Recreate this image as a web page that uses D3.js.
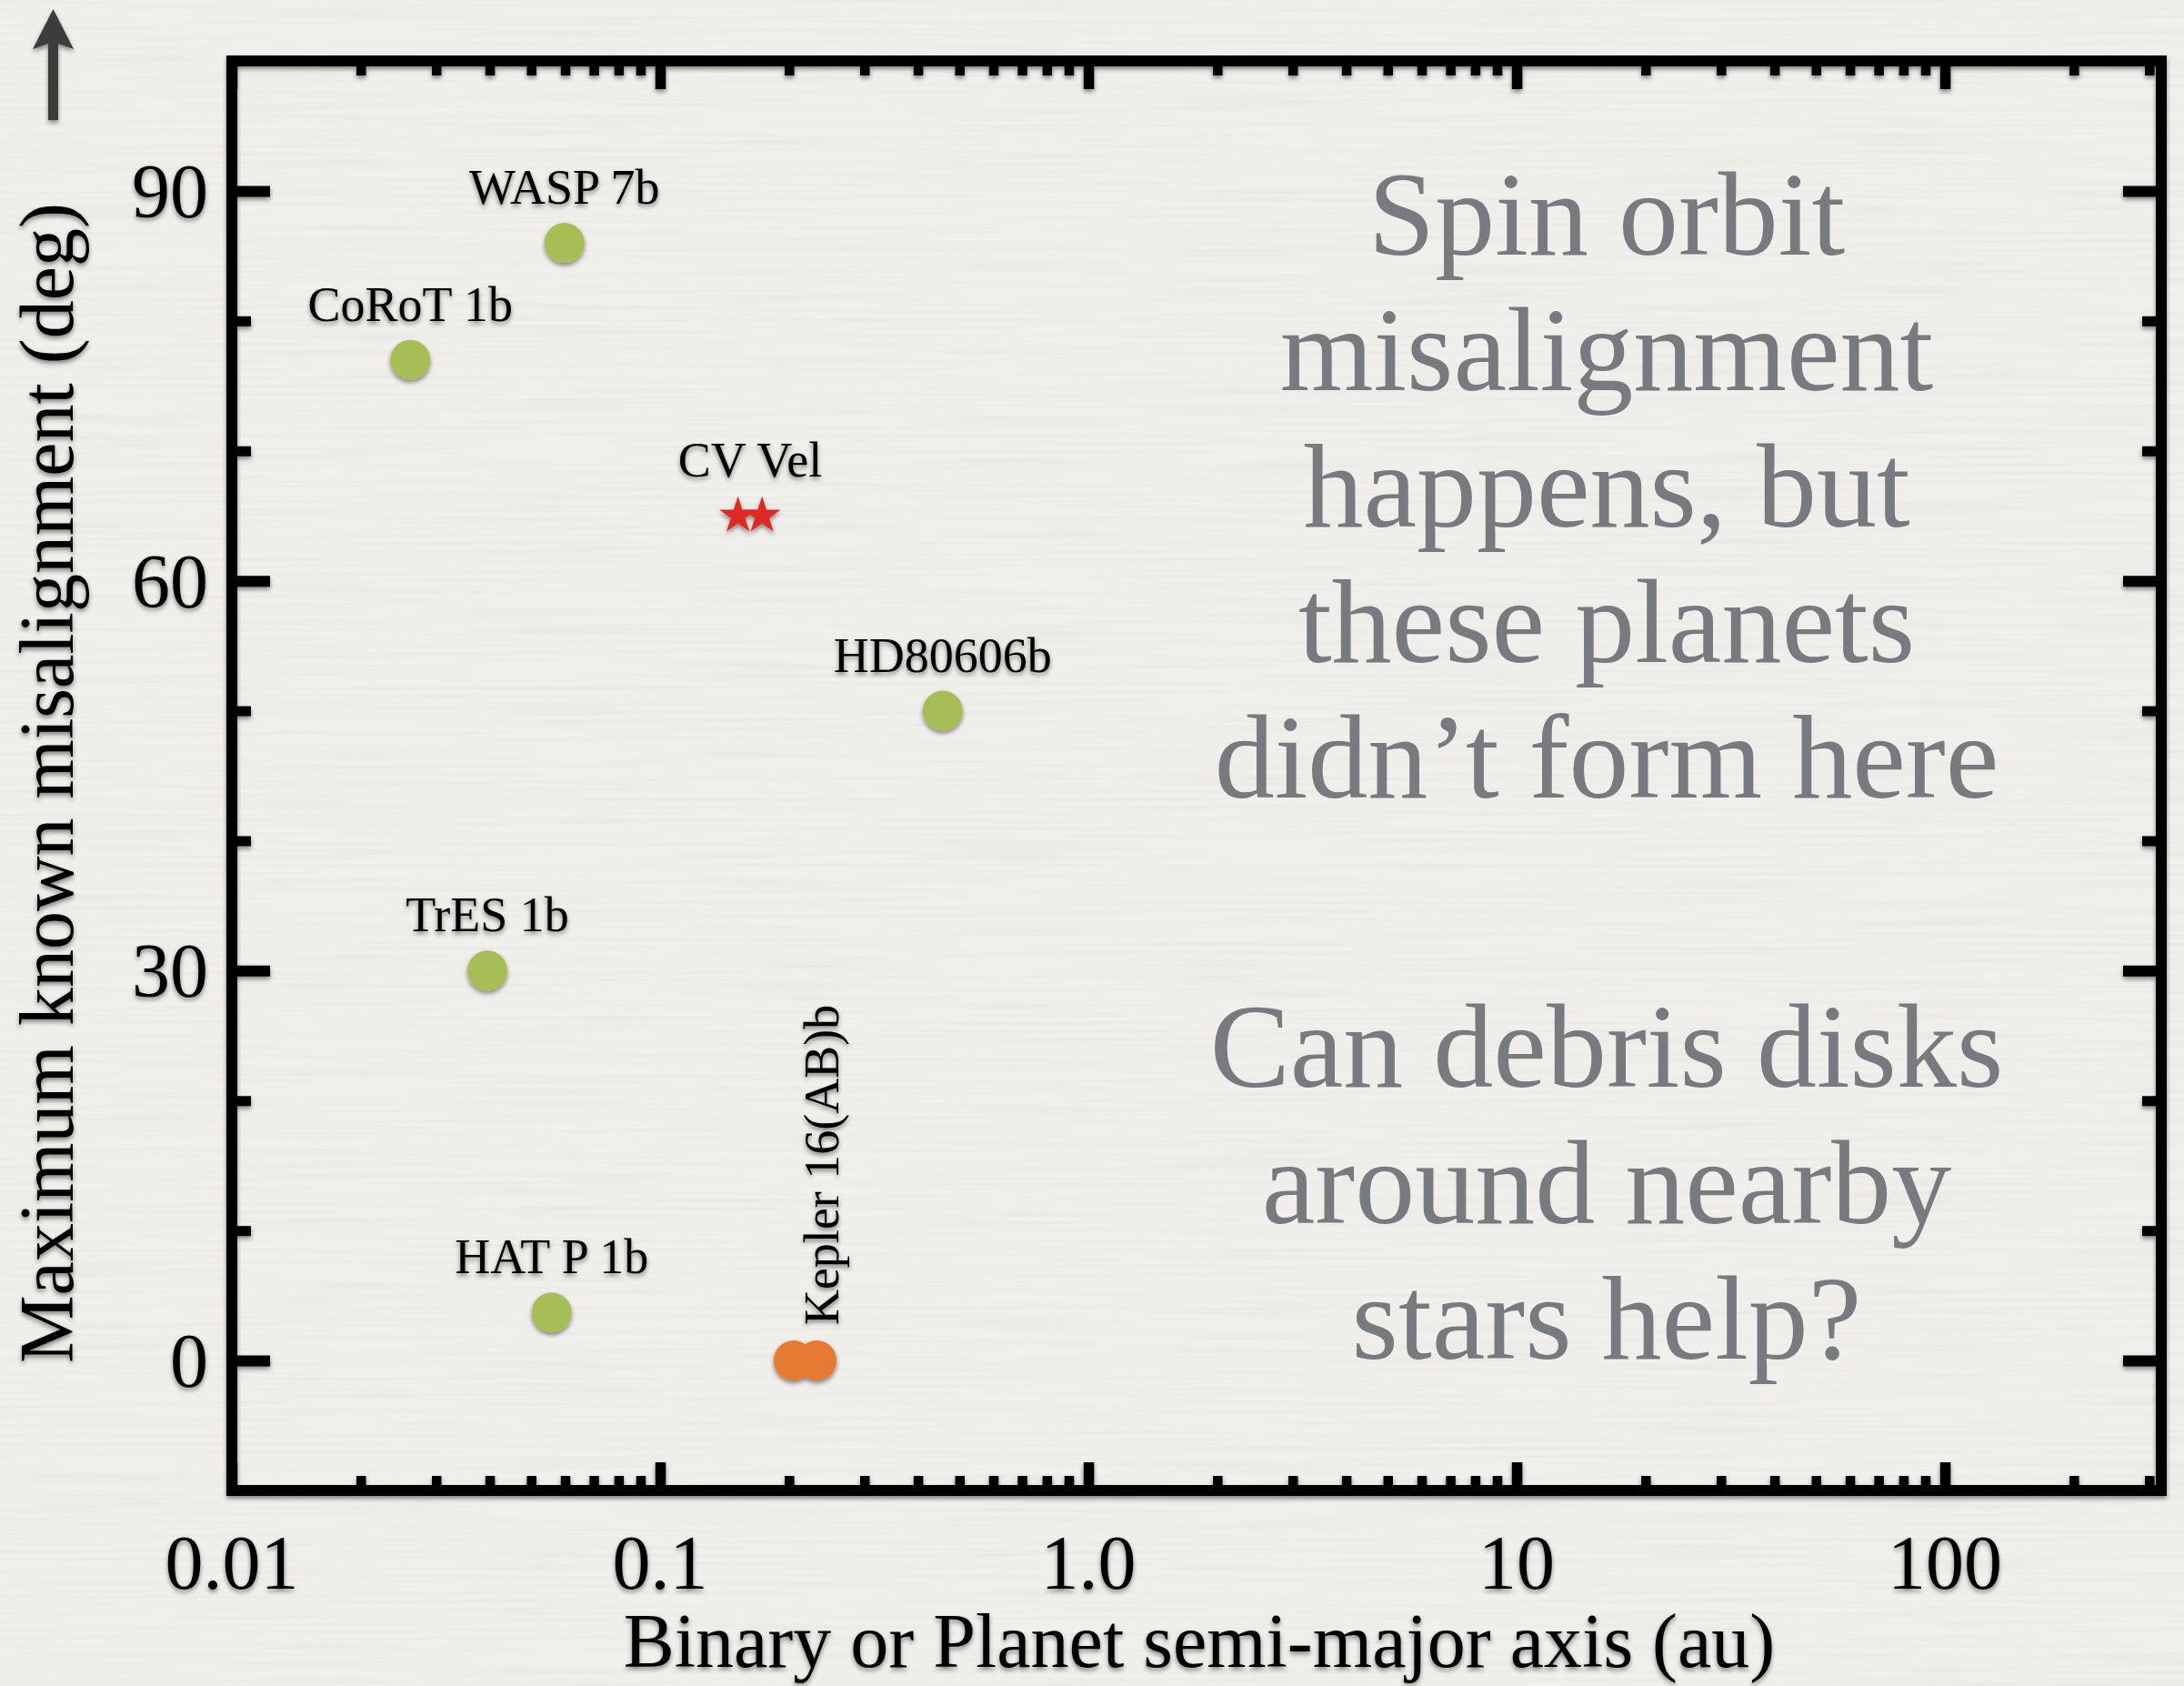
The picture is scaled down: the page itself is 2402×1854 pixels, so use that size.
<!DOCTYPE html>
<html>
<head>
<meta charset="utf-8">
<script src="https://cdn.jsdelivr.net/npm/d3@7"></script>
<style>
  html, body { margin: 0; padding: 0; background: #f0efeb; }
  svg { display: block; }
  text { font-family: "Liberation Serif", "Times New Roman", serif; }
</style>
</head>
<body>
<svg id="chart" width="2402" height="1854"></svg>
<script>
// ---- data ----
const planetNames = ["WASP 7b", "CoRoT 1b", "HD80606b", "TrES 1b", "HAT P 1b"];
const planetA = [0.0598, 0.0261, 0.457, 0.0395, 0.0558];      // semi-major axis (au)
const planetMisalign = [86, 77, 50, 30, 3.7];                   // deg

const cvVelName = "CV Vel";
const cvVelA = [0.152, 0.173];
const cvVelMisalign = [65, 65];

const keplerName = "Kepler 16(AB)b";
const keplerA = [0.205, 0.232];
const keplerMisalign = [0, 0];

const xMajorTicks = [0.01, 0.1, 1, 10, 100];
const xTickLabels = ["0.01", "0.1", "1.0", "10", "100"];
const yMajorTicks = [0, 30, 60, 90];
const yMinorTicks = [10, 20, 40, 50, 70, 80];

const xTitle = "Binary or Planet semi-major axis (au)";
const yTitle = "Maximum known misalignment (deg)";
const noteTop = ["Spin orbit", "misalignment", "happens, but", "these planets", "didn\u2019t form here"];
const noteBottom = ["Can debris disks", "around nearby", "stars help?"];

// ---- layout ----
const W = 2402, H = 1854;
const svg = d3.select("#chart");

const x = d3.scaleLog().domain([0.01, 320]).range([255, 2377]);
const y = d3.scaleLinear().domain([-10, 100]).range([1639, 67]);

const xMinorTicks = [];
for (let d = 0.01; d < 320; d *= 10) {
  for (let m = 2; m <= 9; m++) {
    const v = +(d * m).toPrecision(3);
    if (v < 320) xMinorTicks.push(v);
  }
}

// ---- defs: paper texture and soft shadow ----
const defs = svg.append("defs");
const paper = defs.append("filter").attr("id", "paper")
  .attr("x", 0).attr("y", 0).attr("width", "100%").attr("height", "100%");
paper.append("feTurbulence").attr("type", "fractalNoise")
  .attr("baseFrequency", "0.004 0.22").attr("numOctaves", 3).attr("seed", 7).attr("result", "noise");
paper.append("feColorMatrix").attr("type", "matrix")
  .attr("values", "0 0 0 0 0.35  0 0 0 0 0.35  0 0 0 0 0.32  0 0 0 -0.9 0.55");

const shadow = defs.append("filter").attr("id", "shadow")
  .attr("x", "-20%").attr("y", "-20%").attr("width", "140%").attr("height", "140%");
shadow.append("feGaussianBlur").attr("in", "SourceAlpha").attr("stdDeviation", 2.6).attr("result", "b");
shadow.append("feOffset").attr("in", "b").attr("dx", 0).attr("dy", 2.5).attr("result", "o");
shadow.append("feComponentTransfer").attr("in", "o").attr("result", "s")
  .append("feFuncA").attr("type", "linear").attr("slope", 0.45);
const merge = shadow.append("feMerge");
merge.append("feMergeNode").attr("in", "s");
merge.append("feMergeNode").attr("in", "SourceGraphic");

// background
svg.append("rect").attr("width", W).attr("height", H).attr("fill", "#f0efeb");
svg.append("rect").attr("width", W).attr("height", H).attr("filter", "url(#paper)").attr("opacity", 0.18);

// ---- note text ----
const note = svg.append("g").attr("fill", "#777b7f").attr("font-size", 132).attr("text-anchor", "middle");
note.selectAll("text.top").data(noteTop).join("text").attr("class", "top")
  .attr("x", 1767).attr("y", (d, i) => 280 + i * 149.3).text(d => d);
note.selectAll("text.bot").data(noteBottom).join("text").attr("class", "bot")
  .attr("x", 1767).attr("y", (d, i) => 1195 + i * 149.5).text(d => d);

// ---- axes ----
const chart = svg.append("g").attr("filter", "url(#shadow)");

function styleAxis(g, width) {
  g.select(".domain").remove();
  g.selectAll(".tick line").attr("stroke", "#000").attr("stroke-width", width);
  g.selectAll(".tick text").remove();
}

chart.append("g").attr("transform", `translate(0,${y(-10)})`)
  .call(d3.axisBottom(x).tickValues(xMajorTicks).tickSizeInner(-31).tickSizeOuter(0).tickFormat(""))
  .call(g => styleAxis(g, 11.5));
chart.append("g").attr("transform", `translate(0,${y(-10)})`)
  .call(d3.axisBottom(x).tickValues(xMinorTicks).tickSizeInner(-16).tickSizeOuter(0).tickFormat(""))
  .call(g => styleAxis(g, 10.5));
chart.append("g").attr("transform", `translate(0,${y(100)})`)
  .call(d3.axisTop(x).tickValues(xMajorTicks).tickSizeInner(-31).tickSizeOuter(0).tickFormat(""))
  .call(g => styleAxis(g, 11.5));
chart.append("g").attr("transform", `translate(0,${y(100)})`)
  .call(d3.axisTop(x).tickValues(xMinorTicks).tickSizeInner(-16).tickSizeOuter(0).tickFormat(""))
  .call(g => styleAxis(g, 10.5));

chart.append("g").attr("transform", `translate(${x(0.01)},0)`)
  .call(d3.axisLeft(y).tickValues(yMajorTicks).tickSizeInner(-42).tickSizeOuter(0).tickFormat(""))
  .call(g => styleAxis(g, 12));
chart.append("g").attr("transform", `translate(${x(0.01)},0)`)
  .call(d3.axisLeft(y).tickValues(yMinorTicks).tickSizeInner(-21).tickSizeOuter(0).tickFormat(""))
  .call(g => styleAxis(g, 11));
chart.append("g").attr("transform", `translate(${x(320)},0)`)
  .call(d3.axisRight(y).tickValues(yMajorTicks).tickSizeInner(-42).tickSizeOuter(0).tickFormat(""))
  .call(g => styleAxis(g, 12));
chart.append("g").attr("transform", `translate(${x(320)},0)`)
  .call(d3.axisRight(y).tickValues(yMinorTicks).tickSizeInner(-21).tickSizeOuter(0).tickFormat(""))
  .call(g => styleAxis(g, 11));

// frame
chart.append("rect")
  .attr("x", x(0.01)).attr("y", y(100))
  .attr("width", x(320) - x(0.01)).attr("height", y(-10) - y(100))
  .attr("fill", "none").attr("stroke", "#000").attr("stroke-width", 12);

// tick labels
chart.append("g").attr("font-size", 84).attr("text-anchor", "middle")
  .selectAll("text").data(xMajorTicks).join("text")
  .attr("x", d => x(d)).attr("y", 1747)
  .text((d, i) => xTickLabels[i]);
chart.append("g").attr("font-size", 84).attr("text-anchor", "end")
  .selectAll("text").data(yMajorTicks).join("text")
  .attr("x", 229).attr("y", d => y(d) + 29)
  .text(d => d);

// axis titles
chart.append("text").attr("font-size", 84).attr("text-anchor", "middle")
  .attr("x", 1319).attr("y", 1833).text(xTitle);
chart.append("text").attr("font-size", 84).attr("text-anchor", "middle")
  .attr("transform", "translate(80,861) rotate(-90)").text(yTitle);

// arrow in the corner
const arrow = chart.append("g").attr("fill", "#3b3c3e");
arrow.append("rect").attr("x", 53).attr("y", 44).attr("width", 11).attr("height", 88);
arrow.append("path").attr("d", "M58.5,10 L81,54 L58.5,46 L36,54 Z");

// ---- marks ----
const marks = chart.append("g");
const planets = planetNames.map((n, i) => ({ name: n, a: planetA[i], m: planetMisalign[i] }));

marks.selectAll("circle.planet").data(planets).join("circle").attr("class", "planet")
  .attr("cx", d => x(d.a)).attr("cy", d => y(d.m)).attr("r", 22)
  .attr("fill", "#a7bd55");

marks.selectAll("circle.kepler").data(keplerA).join("circle").attr("class", "kepler")
  .attr("cx", d => x(d)).attr("cy", (d, i) => y(keplerMisalign[i])).attr("r", 22)
  .attr("fill", "#e77a31");

const star = d3.symbol().type(d3.symbolStar).size(520);
marks.selectAll("path.cvvel").data(cvVelA).join("path").attr("class", "cvvel")
  .attr("transform", (d, i) => `translate(${x(d)},${y(cvVelMisalign[i])})`)
  .attr("d", star).attr("fill", "#dd2a24");

// labels
const labels = chart.append("g").attr("font-size", 54).attr("text-anchor", "middle");
labels.selectAll("text.planet").data(planets).join("text").attr("class", "planet")
  .attr("x", d => x(d.a)).attr("y", d => y(d.m) - 43).text(d => d.name);
labels.append("text")
  .attr("x", (x(cvVelA[0]) + x(cvVelA[1])) / 2)
  .attr("y", y(d3.max(cvVelMisalign)) - 43).text(cvVelName);
labels.append("text").attr("text-anchor", "start")
  .attr("transform", `translate(${x(keplerA[1]) + 24},${y(keplerMisalign[1]) - 39}) rotate(-90)`)
  .text(keplerName);
</script>
</body>
</html>
